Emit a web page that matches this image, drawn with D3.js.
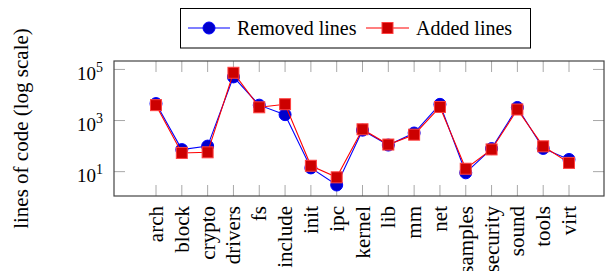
<!DOCTYPE html>
<html>
<head>
<meta charset="utf-8">
<script src="https://cdn.jsdelivr.net/npm/d3@7"></script>
<style>
  body { margin: 0; background: #fff; }
</style>
</head>
<body>
<script>
const categories = ["arch", "block", "crypto", "drivers", "fs", "include", "init", "ipc", "kernel",
  "lib", "mm", "net", "samples", "security", "sound", "tools", "virt"];
const removedLines = [4600, 73, 100, 51000, 4000, 1700, 14, 3, 420, 110, 325, 4300, 9, 80, 3250, 81, 30];
const addedLines = [4000, 54, 57, 74000, 3300, 4350, 17, 6, 455, 115, 280, 3400, 13, 74, 2700, 98, 22];
const yTicks = [1, 3, 5];

const width = 605, height = 271;
const svg = d3.select("body").append("svg")
  .attr("width", width).attr("height", height)
  .attr("font-family", "'Liberation Serif', 'Times New Roman', Times, 'DejaVu Serif', serif");

const plotLeft = 114, plotRight = 604, plotTop = 61, plotBottom = 196;

const x = d3.scalePoint().domain(categories).range([156, 569]);
const y = d3.scaleLog().domain([Math.pow(10, 0.047), Math.pow(10, 5.33)]).range([plotBottom, plotTop]);

// ticks (inward, on all sides)
const tickColor = "#a8a8a8";
categories.forEach(c => {
  svg.append("line").attr("x1", x(c)).attr("x2", x(c)).attr("y1", plotBottom).attr("y2", plotBottom - 11)
    .attr("stroke", tickColor).attr("stroke-width", 1);
  svg.append("line").attr("x1", x(c)).attr("x2", x(c)).attr("y1", plotTop).attr("y2", plotTop + 11)
    .attr("stroke", tickColor).attr("stroke-width", 1);
});
yTicks.forEach(e => {
  const yy = y(Math.pow(10, e));
  svg.append("line").attr("x1", plotLeft).attr("x2", plotLeft + 11).attr("y1", yy).attr("y2", yy)
    .attr("stroke", tickColor).attr("stroke-width", 1);
  svg.append("line").attr("x1", plotRight - 11).attr("x2", plotRight).attr("y1", yy).attr("y2", yy)
    .attr("stroke", tickColor).attr("stroke-width", 1);
  const t = svg.append("text").attr("x", 103).attr("y", yy + 10.5)
    .attr("text-anchor", "end").attr("font-size", 19);
  t.append("tspan").text("10");
  t.append("tspan").attr("dy", -8).attr("font-size", 14).text(e);
});

// frame
svg.append("rect").attr("x", plotLeft).attr("y", plotTop)
  .attr("width", plotRight - plotLeft).attr("height", plotBottom - plotTop)
  .attr("fill", "none").attr("stroke", "#444").attr("stroke-width", 1.2);

// x labels
svg.selectAll("text.xl").data(categories).enter().append("text")
  .attr("class", "xl")
  .attr("transform", d => `translate(${x(d) + 7},206) rotate(-90)`)
  .attr("text-anchor", "end")
  .attr("font-size", 21)
  .text(d => d);

// y label
svg.append("text")
  .attr("transform", `translate(28,${(plotTop + plotBottom) / 2}) rotate(-90)`)
  .attr("text-anchor", "middle")
  .attr("font-size", 21)
  .text("lines of code (log scale)");

const line = d3.line().x((d, i) => x(categories[i])).y(d => y(d));

const plot = svg.append("g");
// removed (blue circles)
plot.append("path").datum(removedLines).attr("d", line)
  .attr("fill", "none").attr("stroke", "#0000ff").attr("stroke-width", 1.1);
plot.selectAll("circle.rm").data(removedLines).enter().append("circle")
  .attr("class", "rm")
  .attr("cx", (d, i) => x(categories[i])).attr("cy", d => y(d)).attr("r", 6)
  .attr("fill", "#0000cc").attr("stroke", "#0000ff").attr("stroke-width", 1);
// added (red squares)
plot.append("path").datum(addedLines).attr("d", line)
  .attr("fill", "none").attr("stroke", "#ff0000").attr("stroke-width", 1.1);
plot.selectAll("rect.ad").data(addedLines).enter().append("rect")
  .attr("class", "ad")
  .attr("x", (d, i) => x(categories[i]) - 5.5).attr("y", d => y(d) - 5.5)
  .attr("width", 11).attr("height", 11)
  .attr("fill", "#cc0000").attr("stroke", "#ff4040").attr("stroke-width", 1);

// legend
const legend = svg.append("g");
legend.append("rect").attr("x", 180.5).attr("y", 8.5).attr("width", 350).attr("height", 39.5)
  .attr("fill", "#fff").attr("stroke", "#000").attr("stroke-width", 1);
legend.append("line").attr("x1", 188).attr("x2", 230).attr("y1", 28).attr("y2", 28)
  .attr("stroke", "#0000ff").attr("stroke-width", 1.1);
legend.append("circle").attr("cx", 209).attr("cy", 28).attr("r", 6)
  .attr("fill", "#0000cc").attr("stroke", "#0000ff");
legend.append("text").attr("x", 237).attr("y", 35).attr("font-size", 20).text("Removed lines");
legend.append("line").attr("x1", 366).attr("x2", 409).attr("y1", 28).attr("y2", 28)
  .attr("stroke", "#ff0000").attr("stroke-width", 1.1);
legend.append("rect").attr("x", 387.5 - 5.5).attr("y", 28 - 5.5).attr("width", 11).attr("height", 11)
  .attr("fill", "#cc0000").attr("stroke", "#ff4040");
legend.append("text").attr("x", 416).attr("y", 35).attr("font-size", 20).text("Added lines");
</script>
</body>
</html>
